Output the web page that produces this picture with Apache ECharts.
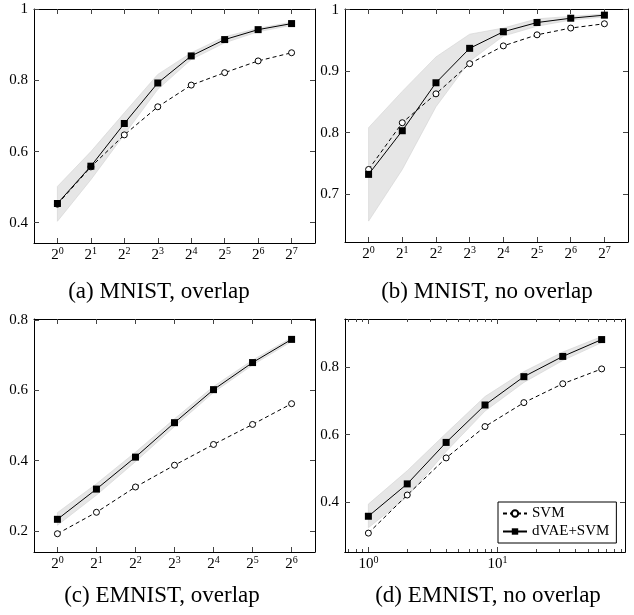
<!DOCTYPE html>
<html>
<head>
<meta charset="utf-8">
<script src="https://cdn.jsdelivr.net/npm/echarts@6/dist/echarts.min.js"></script>
<style>
html, body { margin: 0; padding: 0; background: #fff; }
#chart { width: 634px; height: 615px; }
</style>
</head>
<body>
<div id="chart"></div>
<script>
// x positions (exponent of 2 for a-c, sample count for d)
var expAB = [0, 1, 2, 3, 4, 5, 6, 7];
var expC = [0, 1, 2, 3, 4, 5, 6];
var samplesD = [1, 2, 4, 8, 16, 32, 64];

// tick labels
var tickExpAB = ['0', '1', '2', '3', '4', '5', '6', '7'];
var tickExpC = ['0', '1', '2', '3', '4', '5', '6'];
var tickExpD = ['0', '1'];
var minorD = [0.7, 0.8, 0.9, 2, 3, 4, 5, 6, 7, 8, 9, 20, 30, 40, 50, 60, 70, 80, 90];
var yTicksA = [0.4, 0.6, 0.8, 1];
var yTicksB = [0.7, 0.8, 0.9, 1];
var yTicksC = [0.2, 0.4, 0.6, 0.8];
var yTicksD = [0.4, 0.6, 0.8];

// (a) MNIST, overlap
var svmA = [0.452, 0.557, 0.647, 0.726, 0.787, 0.822, 0.855, 0.878];
var dvaeA = [0.454, 0.559, 0.679, 0.793, 0.869, 0.915, 0.943, 0.960];
var hiA = [0.502, 0.600, 0.709, 0.817, 0.878, 0.923, 0.947, 0.964];
var loA = [0.404, 0.521, 0.648, 0.775, 0.859, 0.906, 0.937, 0.955];

// (b) MNIST, no overlap
var svmB = [0.740, 0.816, 0.863, 0.912, 0.941, 0.959, 0.970, 0.977];
var dvaeB = [0.732, 0.803, 0.881, 0.937, 0.964, 0.979, 0.986, 0.991];
var hiB = [0.808, 0.867, 0.923, 0.960, 0.970, 0.985, 0.989, 0.993];
var loB = [0.656, 0.740, 0.842, 0.916, 0.957, 0.973, 0.983, 0.988];

// (c) EMNIST, overlap
var svmC = [0.192, 0.253, 0.325, 0.387, 0.446, 0.503, 0.562];
var dvaeC = [0.233, 0.319, 0.410, 0.508, 0.602, 0.679, 0.745];
var hiC = [0.252, 0.334, 0.424, 0.519, 0.611, 0.686, 0.750];
var loC = [0.216, 0.302, 0.397, 0.497, 0.594, 0.672, 0.739];

// (d) EMNIST, no overlap
var svmD = [0.308, 0.421, 0.531, 0.624, 0.695, 0.751, 0.795];
var dvaeD = [0.358, 0.454, 0.577, 0.688, 0.772, 0.832, 0.882];
var hiD = [0.394, 0.493, 0.604, 0.713, 0.787, 0.845, 0.891];
var loD = [0.324, 0.416, 0.550, 0.670, 0.755, 0.820, 0.873];

var FONT = 'Liberation Serif';
var grids = [], xAxes = [], yAxes = [], series = [];

function pairs(xs, ys) {
  return xs.map(function (x, k) { return [x, ys[k]]; });
}

function axisX(gi, pos, range, ticks, base, exps, len) {
  var ax = {
    type: 'value', gridIndex: gi, position: pos, min: range[0], max: range[1],
    axisLine: {show: true, onZero: false, lineStyle: {color: '#000', width: 1}},
    axisTick: {show: true, inside: true, length: len, customValues: ticks, lineStyle: {color: '#444', width: 1}},
    axisLabel: {show: false},
    splitLine: {show: false}
  };
  if (exps) {
    ax.axisLabel = {
      show: true, margin: 5, customValues: ticks,
      formatter: function (v) {
        var k = 0;
        ticks.forEach(function (t, i) { if (Math.abs(t - v) < 1e-6) k = i; });
        return '{b|' + base + '}{s|' + exps[k] + '}';
      },
      rich: {
        b: {fontSize: 15, fontFamily: FONT, color: '#000', lineHeight: 15, verticalAlign: 'bottom'},
        s: {fontSize: 10, fontFamily: FONT, color: '#000', lineHeight: 10, verticalAlign: 'bottom', padding: [0, 0, 7, 0]}
      }
    };
  }
  return ax;
}

function axisY(gi, pos, range, ticks, labels) {
  return {
    type: 'value', gridIndex: gi, position: pos, min: range[0], max: range[1],
    axisLine: {show: true, onZero: false, lineStyle: {color: '#000', width: 1}},
    axisTick: {show: true, inside: true, length: 5, customValues: ticks, lineStyle: {color: '#444', width: 1}},
    axisLabel: labels ? {show: true, margin: 6, customValues: ticks, showMinLabel: true, showMaxLabel: true,
      fontSize: 15, fontFamily: FONT, color: '#000'} : {show: false},
    splitLine: {show: false}
  };
}

function addPanel(rect, xs, xRange, xTicks, base, exps, yRange, yTicks, svm, dvae, lo, hi) {
  var gi = grids.length;
  grids.push({left: rect[0], top: rect[1], width: rect[2], height: rect[3]});
  var xi = xAxes.length, yi = yAxes.length;
  xAxes.push(axisX(gi, 'bottom', xRange, xTicks, base, exps, 5));
  xAxes.push(axisX(gi, 'top', xRange, xTicks, null, null, 5));
  yAxes.push(axisY(gi, 'left', yRange, yTicks, true));
  yAxes.push(axisY(gi, 'right', yRange, yTicks, false));

  // shaded band around dVAE+SVM
  series.push({
    type: 'custom', xAxisIndex: xi, yAxisIndex: yi, silent: true, z: 1,
    data: xs.map(function (x, k) { return [x, lo[k], hi[k]]; }),
    renderItem: function (params, api) {
      if (params.dataIndex !== 0) return null;
      var pts = [];
      xs.forEach(function (x, k) { pts.push(api.coord([x, hi[k]])); });
      for (var k = xs.length - 1; k >= 0; k--) pts.push(api.coord([xs[k], lo[k]]));
      return {type: 'polygon', shape: {points: pts}, style: {fill: '#e6e6e6', stroke: '#d2d2d2', lineWidth: 0.6}};
    }
  });
  series.push({
    type: 'line', name: 'SVM', xAxisIndex: xi, yAxisIndex: yi, z: 3,
    data: pairs(xs, svm), symbol: 'circle', symbolSize: 6, showSymbol: true,
    itemStyle: {color: '#fff', borderColor: '#000', borderWidth: 1},
    lineStyle: {color: '#000', width: 1, type: [4, 3]},
    emphasis: {disabled: true}
  });
  series.push({
    type: 'line', name: 'dVAE+SVM', xAxisIndex: xi, yAxisIndex: yi, z: 4,
    data: pairs(xs, dvae), symbol: 'rect', symbolSize: 7, showSymbol: true,
    itemStyle: {color: '#000'},
    lineStyle: {color: '#000', width: 1},
    emphasis: {disabled: true}
  });
  return gi;
}

addPanel([34, 9, 281, 234], expAB, [-0.7, 7.7], expAB, '2', tickExpAB, [0.343, 1.001], yTicksA, svmA, dvaeA, loA, hiA);
addPanel([345, 9, 283, 233], expAB, [-0.7, 7.7], expAB, '2', tickExpAB, [0.622, 1.001], yTicksB, svmB, dvaeB, loB, hiB);
addPanel([34, 319, 281, 233], expC, [-0.6, 6.6], expC, '2', tickExpC, [0.14, 0.803], yTicksC, svmC, dvaeC, loC, hiC);

// (d) uses a log10 x scale
var logD = samplesD.map(Math.log10);
var rangeD = [-0.181, 1.987];
addPanel([345, 319, 280, 233], logD, rangeD, [0, 1], '10', tickExpD, [0.252, 0.943], yTicksD, svmD, dvaeD, loD, hiD);

// overlay grid for the short minor ticks of (d)
var minorLog = minorD.map(Math.log10);
grids.push({left: 345, top: 319, width: 280, height: 233});
var gMinor = grids.length - 1;
xAxes.push(axisX(gMinor, 'bottom', rangeD, minorLog, null, null, 3));
xAxes.push(axisX(gMinor, 'top', rangeD, minorLog, null, null, 3));
yAxes.push({type: 'value', gridIndex: gMinor, show: false, min: 0, max: 1});

var chart = echarts.init(document.getElementById('chart'));
chart.setOption({
  animation: false,
  backgroundColor: '#fff',
  grid: grids,
  xAxis: xAxes,
  yAxis: yAxes,
  series: series,
  legend: {
    data: ['SVM', 'dVAE+SVM'],
    orient: 'vertical', left: 498, top: 502,
    itemWidth: 24, itemHeight: 8, itemGap: 3,
    padding: [4, 7, 4, 4],
    borderColor: '#000', borderWidth: 1, borderRadius: 0,
    backgroundColor: '#fff', selectedMode: false, z: 10,
    textStyle: {fontSize: 15, fontFamily: FONT, color: '#000'}
  },
  graphic: [
    {type: 'text', x: 159, y: 292, style: {text: '(a) MNIST, overlap', fontSize: 23, fontFamily: FONT, fill: '#000', align: 'center', verticalAlign: 'middle'}},
    {type: 'text', x: 487, y: 292, style: {text: '(b) MNIST, no overlap', fontSize: 23, fontFamily: FONT, fill: '#000', align: 'center', verticalAlign: 'middle'}},
    {type: 'text', x: 162, y: 596, style: {text: '(c) EMNIST, overlap', fontSize: 23, fontFamily: FONT, fill: '#000', align: 'center', verticalAlign: 'middle'}},
    {type: 'text', x: 488, y: 596, style: {text: '(d) EMNIST, no overlap', fontSize: 23, fontFamily: FONT, fill: '#000', align: 'center', verticalAlign: 'middle'}}
  ]
});
</script>
</body>
</html>
